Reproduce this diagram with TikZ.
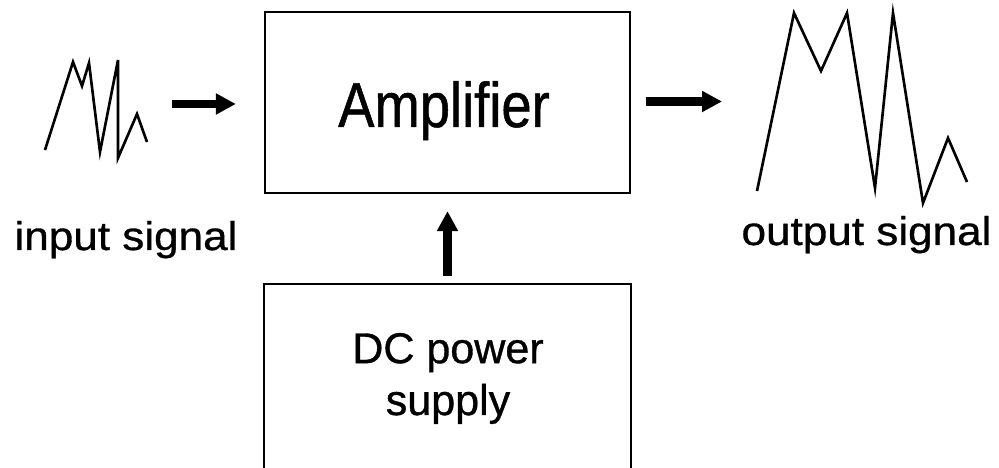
\documentclass[tikz,border=0pt]{standalone}
\usepackage{fontspec}
\setmainfont[FakeBold=0.8]{Liberation Sans}
\newfontfamily\signalfont[FakeStretch=1.1, FakeBold=0.8]{Liberation Sans}
\newfontfamily\ampfont[FakeStretch=0.86, FakeBold=0.8]{Liberation Sans}
\usetikzlibrary{arrows.meta}

\begin{document}
\begin{tikzpicture}[
    every node/.style={inner sep=0pt},
    boxstyle/.style={rectangle, line width=1.3pt, minimum width=7.3cm},
    wave/.style={line width=1.5pt, line join=miter},
    flow/.style={line width=4.8pt, -{Triangle[length=0.4cm, width=0.4cm]}},
    label/.style={font=\signalfont\fontsize{22.8}{26}\selectfont, anchor=base}
]
  \useasboundingbox (0,0) rectangle (19.98,9.36);

  % Amplifier block
  \node[boxstyle, draw, minimum height=3.62cm] (amp) at (8.95,7.31) {};
  \node[font=\ampfont\fontsize{36}{40}\selectfont, anchor=base] (amp-text) at (8.88,6.82) {Amplifier};

  % DC supply block, runs off the bottom edge
  \node[boxstyle, minimum height=3.86cm] (dc) at (8.95,1.73) {};
  \draw[line width=1.3pt] (dc.south west) |- (dc.north east) -- (dc.south east);
  \node[font=\fontsize{24.5}{29.5}\selectfont, align=center, anchor=base] (dc-text) at (8.96,1.06) {DC power\\supply};

  % input signal
  \draw[wave] (0.90,6.36) -- (1.46,8.12) -- (1.64,7.64) -- (1.78,8.10) -- (2.00,6.32)
    -- (2.36,8.16) -- (2.36,6.20) -- (2.74,7.08) -- (2.94,6.52);
  \node[label] (in-label) at (2.52,4.36) {input signal};

  % output signal
  \draw[wave] (15.14,5.54) -- (15.88,9.10) -- (16.42,7.94) -- (16.94,9.10) -- (17.50,5.60)
    -- (17.86,9.10) -- (18.46,5.30) -- (18.96,6.60) -- (19.34,5.72);
  \node[label] (out-label) at (17.33,4.46) {output signal};

  % arrows
  \coordinate (in-tail) at (3.44,7.28);
  \coordinate (out-tip) at (14.44,7.33);
  \draw[flow, shorten >=0.56cm] (in-tail) -- (amp.west |- in-tail);
  \draw[flow, shorten <=0.30cm] (amp.east |- out-tip) -- (out-tip);
  \draw[flow, shorten <=0.16cm, shorten >=0.34cm] (dc.north) -- (amp.south);

\end{tikzpicture}
\end{document}
